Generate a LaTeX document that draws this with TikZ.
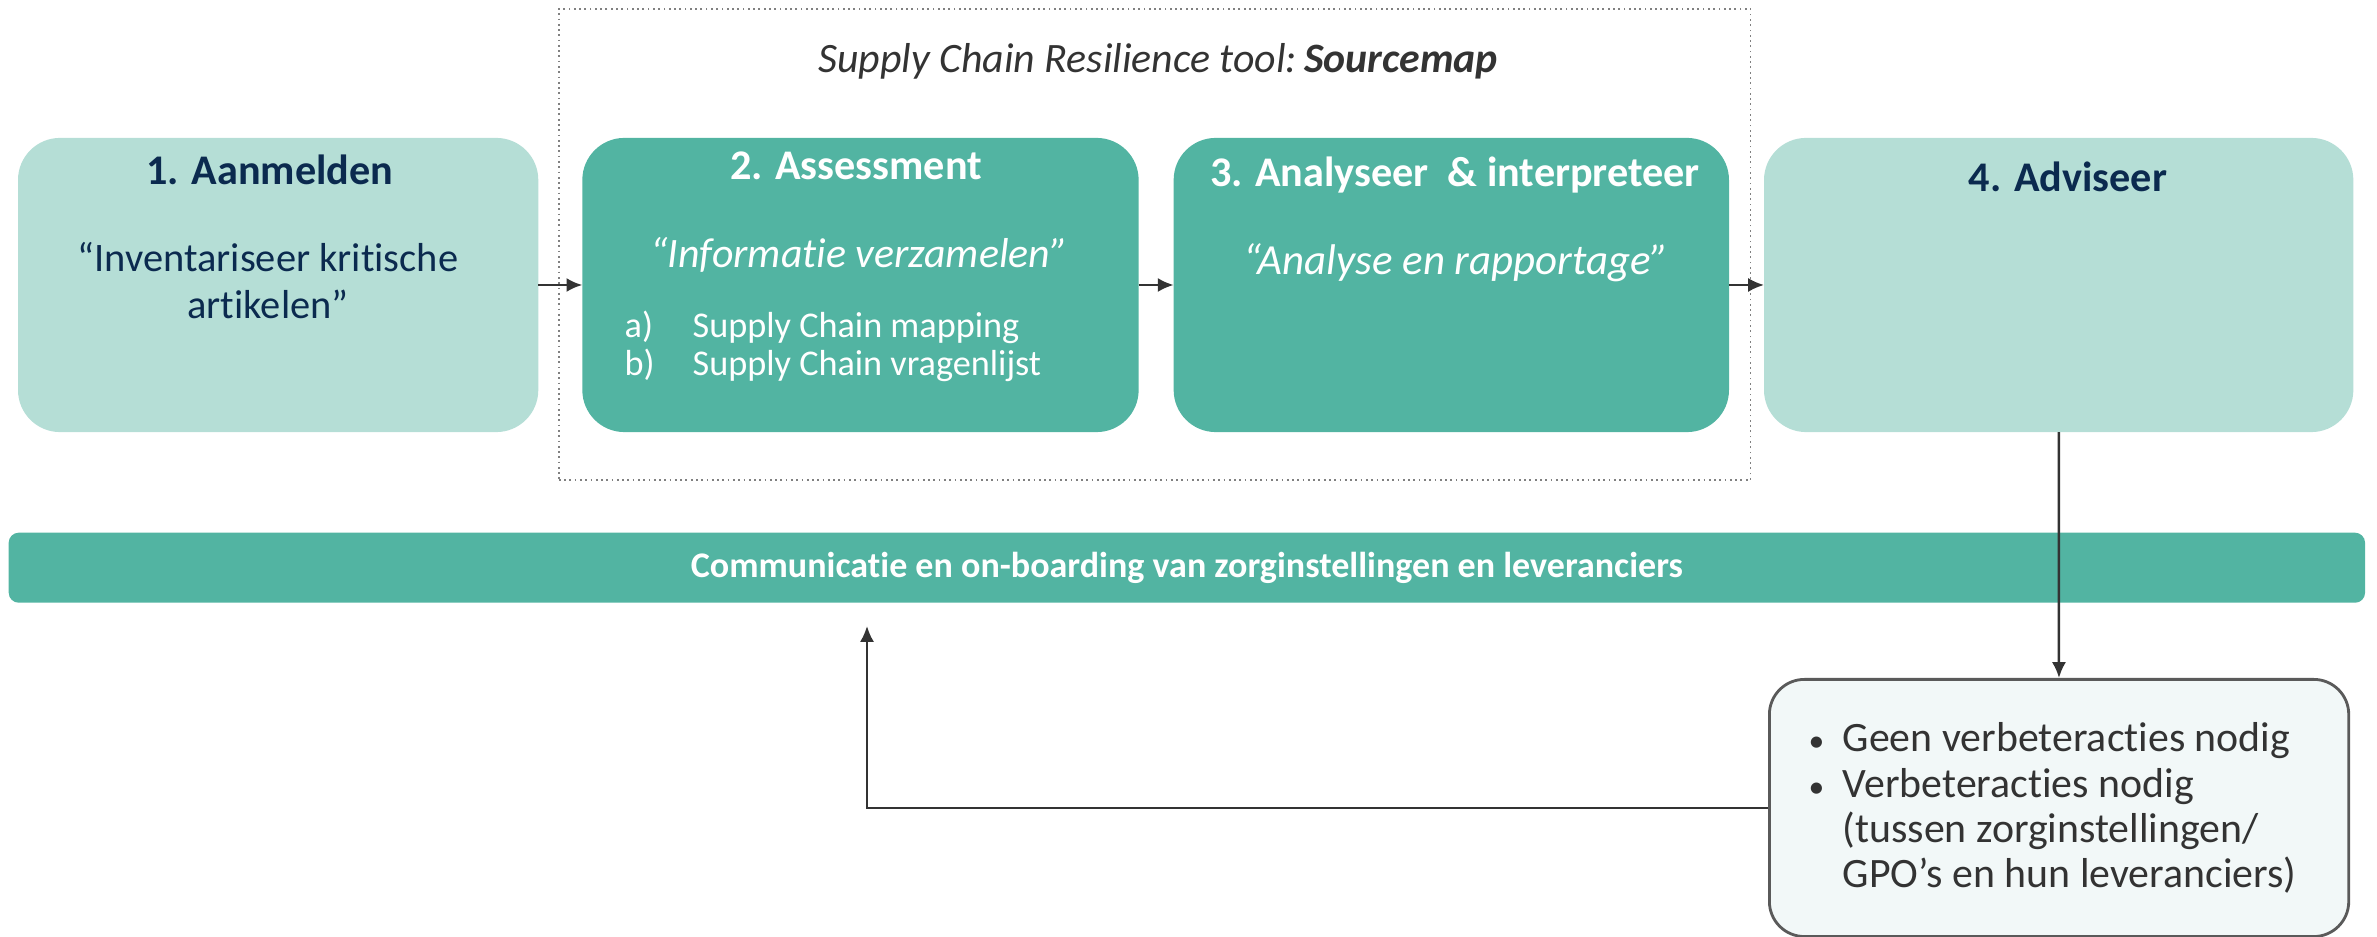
\documentclass[tikz,border=0pt]{standalone}
\usepackage{fontspec}
\setmainfont{Carlito}[Ligatures=NoCommon]
\usetikzlibrary{arrows.meta,chains,positioning}
\definecolor{lichtgroen}{HTML}{B5DED6}
\definecolor{groen}{HTML}{52B4A2}
\definecolor{navy}{HTML}{0B2A4F}
\definecolor{tekstgrijs}{HTML}{333333}
\definecolor{kaderrand}{HTML}{5A5A5A}
\definecolor{kadervul}{HTML}{F2F8F8}

\begin{document}
\begin{tikzpicture}[
		x=0.01cm, y=-0.01cm,
		start chain = going right,
		node distance = 0.35cm,
		StapBox/.style={minimum height=2.94cm, outer sep=0pt, inner sep=0pt,
			rounded corners=0.42cm, on chain},
		Kop/.style={anchor=base, font=\bfseries\fontsize{12}{14}\selectfont},
		Citaat/.style={anchor=base, inner sep=0pt, font=\fontsize{11.5}{13.2}\selectfont},
		Pijl/.style={draw=tekstgrijs, line width=0.7pt,
			-{Latex[length=4.5pt, width=4pt]}},
		]
		\useasboundingbox (0,0) rectangle (2377,937);
		
		% kader rond de tool
		\node [draw=gray, densely dotted, line width=0.5pt, minimum width=11.91cm,
			minimum height=4.71cm, anchor=north west, inner sep=0pt] (kader) at (558,8) {};
		\node [anchor=base, text=tekstgrijs, font=\itshape\fontsize{11.9}{14}\selectfont]
			(titel) at (1158,73) {Supply Chain Resilience tool:\,\textbf{Sourcemap}};
		
		% de vier stappen
		\node [StapBox, fill=lichtgroen, minimum width=5.2cm, anchor=west] (1) at (18,285) {};
		\node [StapBox, fill=groen, minimum width=5.56cm, xshift=0.09cm] (2) {};
		\node [StapBox, fill=groen, minimum width=5.55cm] (3) {};
		\node [StapBox, fill=lichtgroen, minimum width=5.89cm] (4) {};
		
		\node [Kop, text=navy] (kop1) at (270,185) {1. Aanmelden};
		\node [Citaat, text=navy] (tekst1) at (268,272)
			{\begin{tabular}[t]{@{}c@{}}“Inventariseer kritische\\artikelen”\end{tabular}};
		
		\node [Kop, text=white] (kop2) at (856,180) {2. Assessment};
		\node [Citaat, text=white, font=\itshape\fontsize{11.9}{13.2}\selectfont]
			(tekst2) at (859,268) {“Informatie verzamelen”};
		\node [anchor=base west, inner sep=0pt, text=white, font=\fontsize{10.3}{10.6}\selectfont]
			(lijst2) at (624,338) {\begin{tabular}[t]{@{}l@{}}
				\makebox[0.68cm][l]{a)}Supply Chain mapping\\
				\makebox[0.68cm][l]{b)}Supply Chain vragenlijst\end{tabular}};
		
		\node [Kop, text=white] (kop3) at (1455,187) {3. Analyseer \ \& interpreteer};
		\node [Citaat, text=white, font=\itshape\fontsize{12.2}{13.2}\selectfont]
			(tekst3) at (1456,275) {“Analyse en rapportage”};
		
		\node [Kop, text=navy] (kop4) at (2068,192) {4. Adviseer};
		
		% communicatiebalk
		\node [fill=groen, rounded corners=0.1cm, minimum width=23.55cm, minimum height=0.7cm,
			anchor=north west, inner sep=0pt, text=white,
			font=\bfseries\fontsize{10.25}{12}\selectfont] (balk) at (8,532)
			{Communicatie en on-boarding van zorginstellingen en leveranciers};
		
		% uitkomst van het advies
		\node [draw=kaderrand, line width=0.8pt, fill=kadervul, rounded corners=0.35cm,
			minimum width=5.79cm, minimum height=2.57cm, anchor=north west,
			inner sep=0pt] (5) at (1768,678) {};
		\node [anchor=base west, inner sep=0pt, text=tekstgrijs,
			font=\fontsize{11.9}{12.8}\selectfont] (lijst5) at (1808,752)
			{\begin{tabular}[t]{@{}l@{}}
				\makebox[0.34cm][l]{\fontsize{9}{9}\selectfont•}Geen verbeteracties nodig\\
				\makebox[0.34cm][l]{\fontsize{9}{9}\selectfont•}Verbeteracties nodig\\
				\makebox[0.34cm][l]{}(tussen zorginstellingen/\\
				\makebox[0.34cm][l]{}GPO’s en hun leveranciers)\end{tabular}};
		
		\coordinate (terug) at (867,626);
		
		\draw [Pijl] (1) -- (2);
		\draw [Pijl] (2) -- (3);
		\draw [Pijl] (3) -- (4);
		\draw [Pijl] (4) -- (5);
		\draw [Pijl] (5.west) -| (terug);
		
\end{tikzpicture}
\end{document}
